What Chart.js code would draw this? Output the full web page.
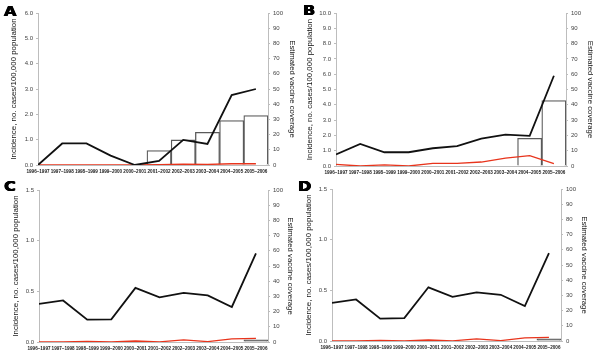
<!DOCTYPE html>
<html><head><meta charset="utf-8">
<script src="https://cdn.jsdelivr.net/npm/chart.js@4/dist/chart.umd.min.js"></script>
<style>
html,body{margin:0;padding:0;background:#fff;}
#wrap{position:relative;width:600px;height:356px;overflow:hidden;background:#fff;}
canvas{position:absolute;}
.letter{position:absolute;font:bold 14px "DejaVu Sans","Liberation Sans",sans-serif;color:#000;line-height:14px;transform:scaleX(1.15);transform-origin:0 0;text-shadow:0.5px 0 0 #000,-0.5px 0 0 #000,0 0.4px 0 #000;}
</style></head><body>
<div id="wrap">
<canvas id="cA" width="300" height="178" style="left:0;top:0"></canvas>
<canvas id="cB" width="300" height="178" style="left:300px;top:0"></canvas>
<canvas id="cC" width="300" height="178" style="left:0;top:178px"></canvas>
<canvas id="cD" width="300" height="178" style="left:300px;top:178px"></canvas>
<div class="letter" style="left:4px;top:4px">A</div>
<div class="letter" style="left:303px;top:3px">B</div>
<div class="letter" style="left:4px;top:179px">C</div>
<div class="letter" style="left:298px;top:179px">D</div>
</div>
<script>
const seasons = ['1996–1997','1997–1998','1998–1999','1999–2000','2000–2001','2001–2002','2002–2003','2003–2004','2004–2005','2005–2006'];

const incA = [0.0, 0.85, 0.85, 0.37, 0.0, 0.16, 0.99, 0.83, 2.76, 3.0];
const redA = [0.0, 0.0, 0.0, 0.0, 0.0, 0.01, 0.03, 0.02, 0.05, 0.05];
const covA = [null, null, null, null, null, 9.5, 16.5, 21.5, 29.2, 32.5];

const incB = [0.76, 1.44, 0.9, 0.9, 1.16, 1.3, 1.79, 2.05, 1.97, 5.9];
const redB = [0.1, 0.0, 0.08, 0.0, 0.17, 0.17, 0.26, 0.52, 0.68, 0.15];
const covB = [null, null, null, null, null, null, null, null, 18.1, 42.8];

const incC = [0.376, 0.41, 0.22, 0.224, 0.534, 0.44, 0.485, 0.46, 0.346, 0.874];
const redC = [0.002, 0.002, 0.006, 0.002, 0.01, 0.002, 0.02, 0.004, 0.03, 0.035];
const covC = [null, null, null, null, null, null, null, null, null, 1.5];

const incD = [0.377, 0.41, 0.22, 0.226, 0.53, 0.436, 0.48, 0.456, 0.345, 0.866];
const redD = [0.002, 0.002, 0.006, 0.002, 0.01, 0.002, 0.02, 0.004, 0.03, 0.035];
const covD = [null, null, null, null, null, null, null, null, null, 1.5];

const leftTicksA = {max: 6, step: 1};
const leftTicksB = {max: 10, step: 1};
const leftTicksC = {max: 1.5, step: 0.5};
const leftTicksD = {max: 1.5, step: 0.5};

Chart.defaults.font.family = '"Liberation Sans", Arial, sans-serif';

function pts(arr){ return arr.map((v,i)=>({x:i, y:v})); }

function makePanel(id, inc, red, cov, lt, g){
  new Chart(document.getElementById(id), {
    type: 'bar',
    data: { datasets: [
      {type:'line', data: pts(inc), borderColor:'#111', borderWidth:1.8, pointRadius:0, tension:0, yAxisID:'y', order:1},
      {type:'line', data: pts(red), borderColor:'#e8341c', borderWidth:1.3, pointRadius:0, tension:0, yAxisID:'y', order:2},
      {type:'bar', data: pts(cov), backgroundColor:g.fill, borderColor:'#5a5a5a', borderWidth:1.3, yAxisID:'y2', order:3, barPercentage:1, categoryPercentage:1}
    ]},
    options: {
      responsive:false, animation:false, events:[],
      layout:{padding:{left:0, right:0, top:g.top, bottom:0}},
      plugins:{legend:{display:false}, tooltip:{enabled:false}},
      scales:{
        x:{type:'linear', min:0, max:9.5, offset:false,
           grid:{display:false, drawTicks:false},
           border:{display:true, color:'#bdbdbd', width:1},
           ticks:{stepSize:1, includeBounds:false, autoSkip:false, maxRotation:0, minRotation:0, padding:4,
                  font:{size:4.6, weight:'bold'}, color:'#222', callback:(v)=> seasons[v] !== undefined ? seasons[v] : ''},
           afterFit:(s)=>{ s.height = 178 - g.bottom; }},
        y:{position:'left', min:0, max:lt.max,
           ticks:{stepSize:lt.step, font:{size:6}, color:'#444', padding:3, callback:(v)=> Number(v).toFixed(1)},
           grid:{drawOnChartArea:false, drawTicks:true, tickLength:2, color:'#bdbdbd'},
           border:{color:'#bdbdbd', width:1},
           title:{display:true, text:'Incidence, no. cases/100,000 population', font:{size:7.9}, color:'#111', padding:{top:g.lt, bottom:0}},
           afterFit:(s)=>{ s.width = g.left; }},
        y2:{position:'right', min:0, max:100,
           ticks:{stepSize:10, font:{size:6}, color:'#444', padding:3},
           grid:{drawOnChartArea:false, drawTicks:true, tickLength:2, color:'#bdbdbd'},
           border:{color:'#bdbdbd', width:1},
           title:{display:true, text:'Estimated vaccine coverage', font:{size:7.8}, color:'#111', padding:{top:g.rt, bottom:0}},
           afterFit:(s)=>{ s.width = 300 - g.right; }}
      }
    }
  });
}

makePanel('cA', incA, redA, covA, leftTicksA, {left:38, right:268, top:13, bottom:165, lt:9.5, rt:3.5, fill:'#fff'});
makePanel('cB', incB, redB, covB, leftTicksB, {left:36, right:266, top:13, bottom:166, lt:5, rt:5, fill:'#fff'});
makePanel('cC', incC, redC, covC, leftTicksC, {left:39, right:268, top:12, bottom:164, lt:11, rt:5, fill:'#7a7a7a'});
makePanel('cD', incD, redD, covD, leftTicksD, {left:32, right:261, top:11, bottom:163, lt:4.5, rt:11.5, fill:'#7a7a7a'});
</script>
</body></html>
